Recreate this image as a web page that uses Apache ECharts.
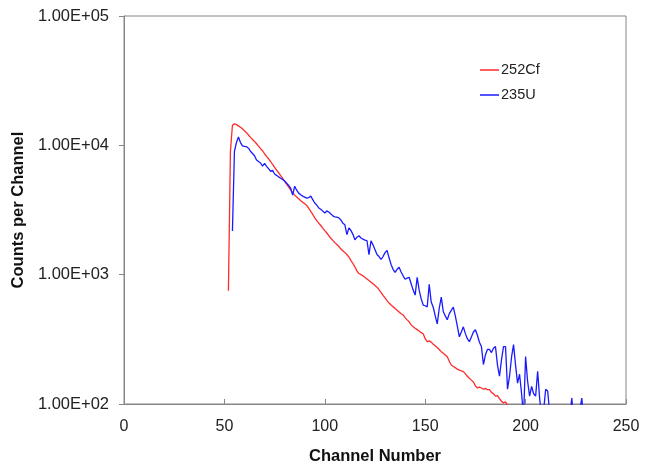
<!DOCTYPE html>
<html>
<head>
<meta charset="utf-8">
<script src="https://cdn.jsdelivr.net/npm/echarts@6/dist/echarts.min.js"></script>
<style>
html,body{margin:0;padding:0;background:#fff;}
#chart{width:651px;height:470px;}
</style>
</head>
<body>
<div id="chart"></div>
<script>
// ---- data ----
var seriesNames = ['252Cf', '235U'];
var xTicks = [0, 50, 100, 150, 200, 250];
var yTicks = [100, 1000, 10000, 100000];

var cfStartChannel = 52;
var cfCounts = [
  750, 9000, 14300, 14650, 14450, 14130, 13800, 13430, 12940, 12530,
  12020, 11530, 11090, 10720, 10280, 9860, 9440, 9080, 8610, 8220,
  7870, 7500, 7110, 6760, 6430, 6140, 5830, 5560, 5270, 5010,
  4760, 4520, 4290, 4120, 3980, 3870, 3730, 3630, 3530, 3430,
  3250, 3080, 2920, 2750, 2620, 2500, 2400, 2290, 2190, 2100,
  2000, 1910, 1840, 1770, 1710, 1650, 1580, 1530, 1480, 1430,
  1370, 1290, 1220, 1150, 1070, 1020, 1000, 980, 950, 925,
  900, 875, 850, 825, 800, 767, 728, 692, 661, 631,
  603, 582, 565, 547, 531, 515, 499, 488, 466, 447,
  432, 409, 395, 385, 376, 367, 356, 349, 320, 303,
  308, 301, 290, 282, 273, 264, 254, 247, 239, 232,
  214, 200, 195, 191, 186, 183, 180, 178, 171, 164,
  158, 153, 148, 138, 133, 135, 133, 130, 132, 129,
  129, 123, 120, 115, 116, 110, 105, 102, 104, 98,
  97, 89, 83, 87, 79, 75, 70
];

var uStartChannel = 54;
var uCounts = [
  2180, 9000, 10500, 11600, 10500, 9900, 9800, 9760, 9500, 9000,
  8640, 8300, 7700, 7500, 7300, 6900, 7240, 6870, 6600, 6290,
  6400, 6000, 5860, 5700, 5560, 5450, 5300, 5090, 4900, 4660,
  4120, 4830, 4500, 4270, 4150, 4050, 3980, 3910, 3950, 4050,
  3800, 3580, 3450, 3280, 3200, 3100, 3000, 3110, 3050, 2950,
  2850, 2800, 2780, 2750, 2650, 2500, 2430, 2040, 2300, 2200,
  2050, 1860, 1950, 2000, 1920, 1880, 1850, 1830, 1430, 1830,
  1700, 1560, 1430, 1380, 1310, 1380, 1480, 1540, 1350, 1200,
  1100, 1040, 1100, 1140, 1050, 980, 921, 940, 955, 850,
  760, 695, 955, 759, 650, 582, 575, 562, 843, 614,
  560, 480, 417, 550, 671, 520, 480, 448, 500, 530,
  562, 480, 400, 331, 360, 395, 350, 320, 303, 330,
  360, 375, 340, 300, 278, 202, 240, 264, 264, 250,
  270, 278, 200, 164, 220, 278, 278, 130, 164, 230,
  288, 200, 145, 170, 120, 80, 233, 150, 115, 137,
  120, 115, 179, 110, 80, 90, 130, 126, 85, 70,
  75, 80, 72, 88, 70, 78, 85, 74, 80, 111,
  75, 70, 82, 90, 111, 70, 60
];

function pairs(start, arr) {
  return arr.map(function (v, i) { return [start + i, v]; });
}

function sciLabel(v) {
  var e = Math.round(Math.log10(v));
  var m = v / Math.pow(10, e);
  var es = (e < 10 ? '0' : '') + e;
  return m.toFixed(2) + 'E+' + es;
}

var chart = echarts.init(document.getElementById('chart'), null, {renderer: 'canvas'});
var fontFam = '"Liberation Sans", Arial, sans-serif';
var axisGray = '#868686';

chart.setOption({
  animation: false,
  backgroundColor: '#ffffff',
  grid: {
    left: 124, right: 25, top: 16, bottom: 62,
    show: true, borderColor: axisGray, borderWidth: 1,
    containLabel: false
  },
  legend: {
    data: [
      {name: seriesNames[0], icon: 'rect'},
      {name: seriesNames[1], icon: 'rect'}
    ],
    orient: 'vertical',
    left: 475, top: 57,
    itemWidth: 19, itemHeight: 1.5, itemGap: 9,
    textStyle: {fontFamily: fontFam, fontSize: 14.5, color: '#222', padding: [0, 0, 0, -3], lineHeight: 16}
  },
  xAxis: {
    type: 'value', min: 0, max: 250, interval: 50,
    name: 'Channel Number', nameLocation: 'middle', nameGap: 44,
    nameTextStyle: {fontFamily: fontFam, fontSize: 16.5, fontWeight: 'bold', color: '#111'},
    axisLine: {show: true, onZero: false, lineStyle: {color: axisGray, width: 1}},
    axisTick: {show: true, inside: true, length: 5, lineStyle: {color: axisGray}},
    axisLabel: {fontFamily: fontFam, fontSize: 16, color: '#222', margin: 15,
      formatter: function (v) { return xTicks.indexOf(v) >= 0 ? String(v) : ''; }},
    splitLine: {show: false}
  },
  yAxis: {
    type: 'log', logBase: 10, min: yTicks[0], max: yTicks[yTicks.length - 1],
    name: 'Counts per Channel', nameLocation: 'middle', nameGap: 90,
    nameTextStyle: {fontFamily: fontFam, fontSize: 16.5, fontWeight: 'bold', color: '#111'},
    axisLine: {show: true, lineStyle: {color: axisGray, width: 1}},
    axisTick: {show: true, inside: false, length: 5, lineStyle: {color: axisGray}},
    axisLabel: {fontFamily: fontFam, fontSize: 16.5, color: '#222', margin: 15,
      formatter: function (v) { return sciLabel(v); }},
    splitLine: {show: false},
    minorTick: {show: false}
  },
  series: [
    {
      name: seriesNames[0], type: 'line', showSymbol: false, symbol: 'none',
      data: pairs(cfStartChannel, cfCounts),
      lineStyle: {color: '#ff2a2a', width: 1.3}, itemStyle: {color: '#ff2a2a'},
      clip: true, z: 2
    },
    {
      name: seriesNames[1], type: 'line', showSymbol: false, symbol: 'none',
      data: pairs(uStartChannel, uCounts),
      lineStyle: {color: '#1a1aff', width: 1.3}, itemStyle: {color: '#1a1aff'},
      clip: true, z: 3
    }
  ]
});
</script>
</body>
</html>
